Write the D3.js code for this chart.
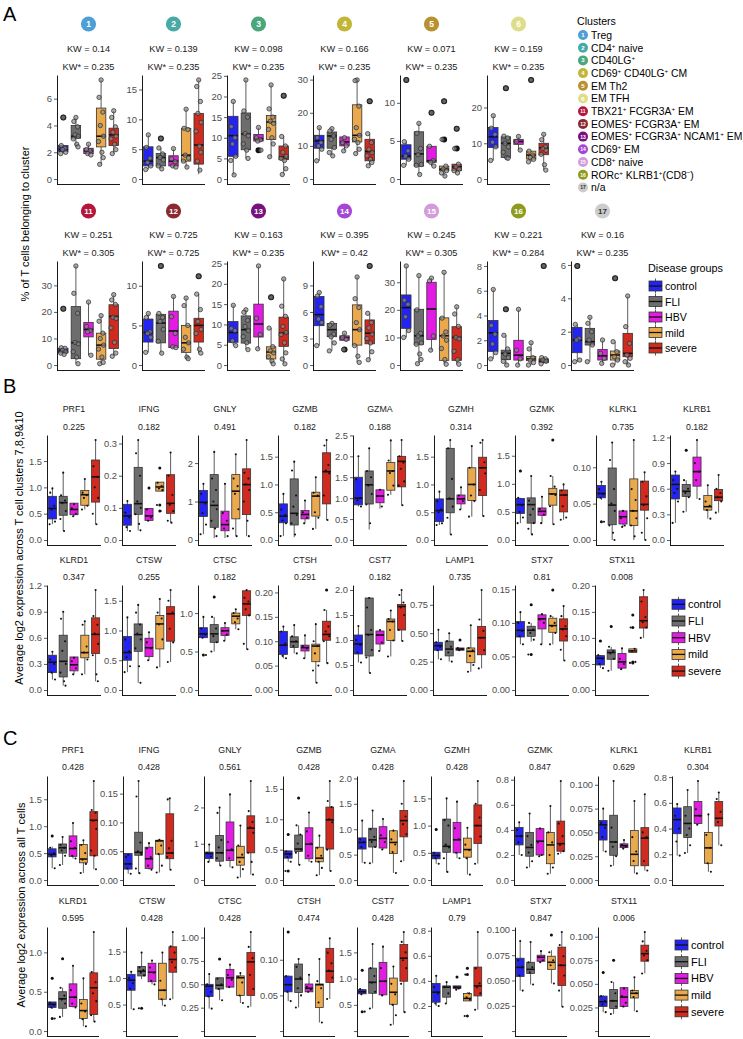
<!DOCTYPE html>
<html><head><meta charset="utf-8">
<script src="https://cdn.jsdelivr.net/npm/d3@7"></script>
<style>body{margin:0;background:#fff}</style>
</head><body>
<svg id="c" width="743" height="1039"></svg>
<script>
// ---------------- DATA ----------------
const groups = ["control","FLI","HBV","mild","severe"];
const groupColors = ["#2424f2","#6d6d6d","#e21ce2","#eaa94c","#d12a1e"];

const clusterIds = ["1","2","3","4","5","6","11","12","13","14","15","16","17"];
const clusterNames = ["Treg","CD4^+ naive","CD40LG^+","CD69^+ CD40LG^+ CM","EM Th2","EM TFH",
  "TBX21^+ FCGR3A^+ EM","EOMES^+ FCGR3A^+ EM","EOMES^+ FCGR3A^+ NCAM1^+ EM","CD69^+ EM","CD8^+ naive",
  "RORc^+ KLRB1^+(CD8^-)","n/a"];
const clusterColors = ["#4e9fd6","#48a9a6","#4aa77c","#c2b637","#b99131","#dedd8a",
  "#b3183c","#8a2a30","#78107d","#a547d6","#d39bdb","#8f9a1f","#cccccc"];

// Panel A: % of T cells per cluster
const aKW =    ["0.14","0.139","0.098","0.166","0.071","0.159","0.251","0.725","0.163","0.395","0.245","0.221","0.16"];
const aKWadj = ["0.235","0.235","0.235","0.235","0.235","0.235","0.305","0.725","0.235","0.42","0.305","0.284","0.235"];
const aTicks = [["0","2","4","6"],["0","5","10","15"],["0","5","10","15","20","25"],["0","10","20","30"],
  ["0","5","10"],["0","10","20"],["0","10","20","30"],["0","5","10"],["0","5","10","15","20","25"],
  ["0","3","6","9"],["0","10","20","30"],["0","2","4","6","8"],["0","2","4","6"]];
// [lo, q1, median, q3, hi] per group
const aBoxes = [
 [[1.9,2.05,2.2,2.5,2.5],[2.4,3.05,3.2,4.0,4.6],[1.8,1.9,2.1,2.3,2.6],[1.1,2.4,3.2,5.3,7.4],[1.9,2.5,3.3,3.8,5.1]],
 [[1.6,2.2,3.0,5.4,7.4],[1.7,2.2,3.6,4.3,5.2],[2.0,2.2,3.0,3.9,5.1],[2.0,3.0,4.0,8.5,11.7],[0.8,2.5,5.7,11.0,16.6]],
 [[1.0,5.5,10.5,15.2,18.8],[5.0,7.1,10.9,16.0,24.0],[9.2,9.2,9.8,10.8,12.5],[5.4,9.6,13.8,15.4,22.8],[1.1,4.7,5.4,8.0,10.3]],
 [[5.5,9.3,11.5,13.2,15.5],[7.0,9.3,13.0,14.2,15.2],[8.5,10.0,11.2,12.7,12.7],[7.7,11.2,13.2,22.4,29.9],[4.0,5.5,8.3,12.0,13.7]],
 [[1.8,2.6,3.0,4.5,4.9],[0.6,1.7,3.3,6.2,7.3],[1.7,2.2,2.4,4.3,4.3],[0.4,1.1,1.3,1.7,1.7],[0.8,1.1,1.6,1.95,1.95]],
 [[5.2,8.8,11.8,14.4,17.7],[5.8,6.0,10.0,11.8,12.0],[8.1,9.7,10.5,11.1,11.9],[4.8,5.6,6.7,7.8,7.8],[2.5,6.8,8.7,10.0,12.5]],
 [[4.0,4.6,5.3,6.3,6.5],[0.5,2.4,8.4,22.0,37.3],[3.7,10.6,13.4,16.0,23.7],[0.5,2.2,7.5,12.0,18.6],[3.3,6.2,18.3,22.7,26.5]],
 [[1.6,2.9,4.1,5.8,6.5],[1.5,2.8,5.3,6.4,6.5],[2.2,2.2,4.3,6.8,8.65],[0.8,1.6,2.8,5.0,8.45],[1.5,2.9,5.0,5.9,8.95]],
 [[4.8,5.6,8.0,10.7,14.7],[3.8,5.4,8.7,12.1,13.6],[4.0,6.9,10.1,15.0,24.4],[0.3,1.5,3.2,4.5,9.1],[0.3,4.6,7.9,11.8,21.2]],
 [[2.2,4.45,5.7,7.75,8.2],[1.6,3.2,4.0,4.7,4.7],[2.8,2.8,3.1,3.3,3.6],[0.3,2.25,4.0,6.8,9.95],[0.6,2.4,3.6,5.1,5.85]],
 [[10.0,13.3,20.8,25.4,35.9],[0.5,7.5,10.6,20.2,32.4],[5.4,9.3,20.3,30.0,31.5],[0.3,1.7,10.6,17.1,33.6],[0.3,1.7,10.0,13.9,21.1]],
 [[0.5,1.1,2.6,3.6,6.1],[0,0.45,0.95,1.2,2.4],[0,0.4,0.8,2.0,4.5],[0,0.35,0.5,0.7,1.8],[0.1,0.2,0.3,0.5,0.6]],
 [[0.2,0.74,1.5,2.26,2.44],[0.2,1.2,1.4,2.2,2.86],[0.1,0.3,0.55,0.94,1.5],[0,0.3,0.6,0.84,1.4],[0,0.5,0.7,1.9,4.14]]
];
const aSamples = [
 [[4.6,2.5,2.3,2.2,2.0,1.9],[4.6,4.3,3.9,3.3,3.2,3.0,2.6,2.4],[2.6,2.2,2.1,1.9,1.8],[7.4,6.1,5.0,4.0,3.2,2.8,2.0,1.6,1.1],[5.1,4.6,3.9,3.5,3.2,3.0,2.6,2.2,1.9]],
 [[7.4,5.3,3.5,2.8,2.2,1.6],[6.8,5.2,4.2,3.6,3.2,2.2,1.7],[5.1,3.4,2.9,2.2,2.0],[11.7,8.5,8.3,4.0,3.5,3.0,2.0],[16.6,15.5,13.0,11.0,9.5,8.0,5.5,4.5,3.0,1.5]],
 [[18.8,12.7,10.0,8.5,5.5,4.5,1.0],[24.0,16.5,15.0,11.0,10.5,8.5,7.0,5.0],[12.5,10.0,9.5,9.2,7.0],[22.8,17.0,15.0,14.0,13.5,12.0,10.0,8.5,5.4],[20.2,10.3,8.0,6.5,5.5,5.0,4.5,2.5,1.1]],
 [[15.5,12.5,11.0,10.0,9.0,5.5],[15.2,14.5,13.0,12.0,9.5,8.0,7.0],[12.5,11.0,10.0,8.5],[29.9,29.7,22.0,15.5,13.2,12.0,11.0,9.0,7.7],[23.5,13.7,11.0,9.0,8.0,7.0,6.0,5.0,4.0]],
 [[13.0,4.9,3.7,3.0,2.6,1.8],[7.3,6.0,4.0,3.2,1.9,1.8,0.6],[8.7,4.3,2.4,2.2,1.7],[10.2,5.2,1.7,1.3,1.1,0.8,0.4],[6.6,4.0,1.95,1.6,1.3,1.1,0.8]],
 [[17.7,14.2,12.5,10.3,9.0,5.2],[25.4,12.0,11.5,10.0,9.0,7.5,6.0,5.8],[11.9,10.5,8.1],[27.7,7.8,6.7,6.0,5.5,4.8],[12.5,11.0,9.0,8.5,8.0,6.9,4.0,2.5]],
 [[21.2,6.5,6.3,5.5,5.0,4.5,4.0],[37.3,27.0,19.5,8.5,8.0,5.0,3.0,0.5],[23.7,14.5,13.0,12.5,3.7],[18.6,16.5,12.0,10.0,7.5,6.0,3.0,1.0,0.5],[26.5,24.5,22.8,18.0,17.5,14.0,8.5,4.5,3.3]],
 [[6.5,6.0,4.2,4.0,3.5,1.6],[12.5,6.5,6.0,5.5,4.5,3.0,1.5],[8.65,6.1,4.0,2.3,2.2],[8.45,7.5,5.0,3.5,2.8,2.0,1.0,0.8],[11.2,8.95,7.0,5.5,4.5,4.0,2.0,1.5]],
 [[14.7,9.0,8.5,6.0,4.8],[13.6,13.0,11.0,9.5,8.5,7.0,5.5,3.8],[24.4,11.5,7.5,4.0],[16.7,9.1,4.5,3.5,3.0,2.0,1.0,0.3],[21.2,14.5,12.0,9.5,8.0,7.5,5.5,3.0,1.5,0.3]],
 [[8.2,7.8,6.6,5.2,4.8,2.2],[4.7,4.5,3.5,3.2,2.5,1.6],[3.6,3.1,2.9,1.75],[9.95,7.5,6.5,4.8,4.0,2.2,1.0,0.3],[11.2,5.85,4.8,4.2,3.5,3.0,2.5,1.5,0.6]],
 [[35.9,23.5,22.0,17.5,12.5,10.0],[32.4,20.0,11.5,10.5,8.0,7.5,4.0,2.0,0.5],[31.5,30.5,10.5,5.4],[33.6,17.0,12.0,10.5,9.0,6.0,2.0,0.3],[21.1,18.5,14.0,10.0,9.5,5.0,2.0,0.3]],
 [[6.1,3.2,2.5,1.7,1.0,0.5],[4.5,2.4,1.3,0.9,0.6,0.3,0],[4.5,1.2,0.5,0],[1.8,1.3,0.6,0.4,0.2,0],[8.0,0.6,0.5,0.4,0.3,0.1]],
 [[5.94,2.44,1.6,1.5,0.3,0.2],[2.86,2.5,2.0,1.5,1.2,0.2],[1.5,0.7,0.4,0.1],[5.2,1.4,0.8,0.5,0.3,0],[4.14,2.3,1.3,0.6,0.4,0.2,0]]
];

// Panels B and C: genes
const genes = ["PRF1","IFNG","GNLY","GZMB","GZMA","GZMH","GZMK","KLRK1","KLRB1",
               "KLRD1","CTSW","CTSC","CTSH","CST7","LAMP1","STX7","STX11"];
const bP = ["0.225","0.182","0.491","0.182","0.188","0.314","0.392","0.735","0.182",
            "0.347","0.255","0.182","0.291","0.182","0.735","0.81","0.008"];
const bTicks = [["0.0","0.5","1.0","1.5","2.0"],["0.0","0.1","0.2","0.3"],["0","1","2"],["0.0","0.5","1.0","1.5"],
  ["0.0","0.5","1.0","1.5","2.0","2.5"],["0.0","0.5","1.0","1.5"],["0.0","0.5","1.0","1.5"],["0.00","0.05","0.10"],
  ["0.0","0.3","0.6","0.9","1.2"],["0.0","0.3","0.6","0.9","1.2"],["0.0","0.5","1.0","1.5"],["0.0","0.5","1.0"],
  ["0.00","0.05","0.10","0.15","0.20"],["0.0","0.5","1.0","1.5","2.0"],["0.00","0.25","0.50","0.75"],
  ["0.00","0.05","0.10","0.15"],["0.00","0.05","0.10","0.15","0.20"]];
const bBoxes = [
 [[0.3,0.40,0.60,0.83,0.98],[0.17,0.47,0.71,0.83,1.28],[0.45,0.48,0.58,0.70,0.70],[0.58,0.66,0.86,0.94,1.16],[0.3,0.72,1.2,1.52,1.9]],
 [[0.028,0.046,0.075,0.111,0.121],[0.03,0.08,0.113,0.226,0.311],[0.06,0.061,0.075,0.098,0.098],[0.152,0.152,0.165,0.18,0.18],[0.054,0.083,0.114,0.203,0.272]],
 [[0.15,0.61,0.98,1.29,1.46],[0.05,0.33,0.9,1.7,2.29],[0.05,0.24,0.4,0.75,1.46],[0.1,0.55,1.27,1.7,2.23],[0.1,0.66,1.44,1.85,2.6]],
 [[0.07,0.31,0.43,0.65,0.83],[0.05,0.27,0.48,1.1,1.41],[0.3,0.38,0.46,0.53,0.71],[0.2,0.43,0.79,0.86,1.13],[0.36,0.65,1.23,1.57,1.8]],
 [[0.8,0.84,1.0,1.5,2.0],[0.25,0.86,1.32,1.65,2.19],[0.75,0.89,1.05,1.2,1.2],[1.08,1.19,1.65,1.85,2.38],[0.83,1.27,1.88,2.0,2.39]],
 [[0.27,0.33,0.53,0.74,0.87],[0.1,0.49,0.74,1.65,1.8],[0.55,0.65,0.74,0.81,0.95],[0.42,0.71,1.0,1.3,1.69],[0.43,0.8,1.3,1.49,1.8]],
 [[0.3,0.47,0.63,0.74,0.75],[0.1,0.3,0.63,0.75,1.14],[0.3,0.44,0.51,0.57,0.77],[0.28,0.62,0.82,0.92,1.14],[0.36,0.5,0.8,0.89,0.99]],
 [[0.055,0.058,0.064,0.075,0.08],[0.0,0.021,0.048,0.099,0.134],[0.018,0.022,0.032,0.04,0.04],[0.0,0.02,0.04,0.084,0.1375],[0.0,0.041,0.049,0.081,0.093]],
 [[0.2,0.48,0.65,0.76,0.8],[0.33,0.51,0.57,0.65,0.7],[0.48,0.63,0.8,0.97,1.17],[0.25,0.35,0.39,0.52,0.64],[0.32,0.46,0.5,0.59,0.76]],
 [[0.12,0.2,0.32,0.4,0.44],[0.05,0.15,0.33,0.63,0.9],[0.18,0.22,0.29,0.38,0.38],[0.18,0.37,0.43,0.63,0.79],[0.1,0.42,0.64,0.83,1.15]],
 [[0.3,0.5,0.63,0.9,1.22],[0.12,0.65,0.93,1.11,1.43],[0.5,0.56,0.71,0.87,0.97],[0.38,0.69,1.11,1.25,1.53],[0.47,0.82,1.28,1.4,1.68]],
 [[0.68,0.68,0.73,0.81,0.95],[0.5,0.62,0.73,0.85,0.95],[0.64,0.71,0.77,0.81,0.87],[0.79,0.86,0.96,1.0,1.05],[0.53,0.97,1.12,1.29,1.3]],
 [[0.065,0.073,0.092,0.12,0.13],[0.075,0.087,0.099,0.109,0.133],[0.065,0.08,0.087,0.092,0.112],[0.015,0.058,0.09,0.094,0.135],[0.055,0.102,0.114,0.141,0.164]],
 [[0.55,0.72,0.92,1.1,1.28],[0.34,0.68,1.11,1.84,1.84],[0.78,0.92,1.1,1.18,1.2],[0.67,0.99,1.37,1.42,1.59],[0.98,1.2,1.67,1.71,2.0]],
 [[0.27,0.35,0.39,0.42,0.53],[0.25,0.3,0.36,0.43,0.5],[0.35,0.35,0.36,0.37,0.37],[0.16,0.24,0.34,0.37,0.57],[0.19,0.31,0.46,0.56,0.88]],
 [[0.068,0.079,0.089,0.102,0.116],[0.072,0.08,0.089,0.095,0.1],[0.068,0.091,0.106,0.112,0.113],[0.068,0.086,0.096,0.107,0.11],[0.044,0.073,0.091,0.106,0.125]],
 [[0.042,0.048,0.061,0.066,0.067],[0.037,0.059,0.072,0.077,0.083],[0.04,0.042,0.054,0.07,0.08],[0.072,0.072,0.075,0.079,0.079],[0.1,0.119,0.133,0.179,0.192]]
];
const bSamples = [
 [[0.98,0.9,0.65,0.58,0.35,0.3],[1.28,0.85,0.75,0.7,0.55,0.4,0.17],[0.68,0.6,0.5,0.45],[1.16,0.9,0.85,0.8,0.65,0.58],[1.9,1.4,1.2,1.0,0.8,0.5,0.3]],
 [[0.121,0.085,0.07,0.04,0.028],[0.311,0.27,0.2,0.12,0.1,0.08,0.05,0.03],[0.162,0.095,0.07,0.06],[0.224,0.178,0.168,0.16,0.155,0.109,0.09],[0.272,0.2,0.14,0.11,0.09,0.06,0.054]],
 [[1.46,1.2,0.95,0.7,0.4,0.15],[2.29,1.6,1.3,1.0,0.8,0.5,0.3,0.1],[1.46,0.7,0.5,0.3,0.1],[2.23,1.6,1.4,1.2,0.8,0.3,0.1],[2.6,1.75,1.6,1.45,1.3,1.0,0.5,0.1]],
 [[0.83,0.55,0.45,0.35,0.3,0.07],[1.41,1.25,0.8,0.6,0.45,0.3,0.1],[0.71,0.5,0.4,0.3],[1.13,0.85,0.8,0.5,0.4,0.2],[1.8,1.7,1.35,1.25,1.2,0.8,0.36]],
 [[2.0,1.45,1.0,0.95,0.8],[2.19,1.65,1.5,1.3,1.1,0.85,0.4],[1.2,1.05,0.8],[2.38,1.9,1.65,1.6,1.3,1.08],[2.39,2.0,1.85,1.7,1.4,1.3,0.83]],
 [[0.87,0.7,0.55,0.5,0.3,0.27],[1.8,1.65,1.1,0.75,0.6,0.4,0.1],[0.95,0.8,0.7,0.55],[1.69,1.3,1.0,0.8,0.7,0.42],[1.8,1.75,1.4,1.3,1.2,0.9,0.43]],
 [[1.23,0.75,0.62,0.5,0.4,0.3],[1.14,0.7,0.55,0.45,0.3,0.2,0.1],[0.77,0.55,0.45,0.3],[1.78,1.14,0.95,0.82,0.8,0.6,0.28],[0.99,0.88,0.8,0.6,0.4,0.36]],
 [[0.08,0.07,0.063,0.058,0.025],[0.134,0.11,0.07,0.05,0.04,0.02,0.01,0.0],[0.04,0.03,0.02,0.018],[0.1375,0.07,0.055,0.04,0.03,0.02,0.005],[0.093,0.08,0.06,0.048,0.03,0.01,0.0]],
 [[0.8,0.7,0.6,0.55,0.45,0.2],[1.05,0.7,0.6,0.55,0.5,0.33],[1.17,0.9,0.8,0.7,0.48],[0.64,0.45,0.4,0.35,0.25],[0.76,0.6,0.55,0.5,0.45,0.32]],
 [[0.44,0.35,0.3,0.2,0.12],[0.9,0.82,0.56,0.45,0.3,0.2,0.1,0.05],[0.37,0.33,0.25,0.18],[0.79,0.75,0.5,0.43,0.35,0.18],[1.15,0.85,0.75,0.65,0.53,0.4,0.18,0.1]],
 [[1.22,0.85,0.65,0.55,0.4,0.3],[1.43,1.3,1.1,0.95,0.85,0.7,0.4,0.12],[0.97,0.8,0.7,0.5],[1.53,1.3,1.2,1.1,0.85,0.38],[1.68,1.5,1.3,1.03,0.8,0.47]],
 [[0.95,0.8,0.72,0.68,0.455],[1.21,0.95,0.8,0.7,0.62,0.5],[0.87,0.77,0.72,0.64],[1.05,1.0,0.93,0.88,0.79],[1.3,1.2,1.15,1.05,0.97,0.6,0.53]],
 [[0.13,0.12,0.095,0.07,0.065],[0.133,0.11,0.1,0.09,0.075],[0.112,0.09,0.085,0.065],[0.135,0.1,0.09,0.075,0.05,0.04,0.015],[0.205,0.164,0.13,0.12,0.11,0.1,0.055]],
 [[1.28,1.0,0.9,0.75,0.55],[1.84,1.65,1.2,1.1,0.8,0.65,0.34],[1.2,1.1,0.95,0.78],[1.59,1.42,1.37,1.2,0.99,0.67],[2.0,1.9,1.75,1.65,1.5,1.2,0.98]],
 [[0.53,0.42,0.38,0.35,0.27],[0.5,0.43,0.38,0.33,0.25],[0.44,0.37,0.36,0.35],[0.57,0.37,0.35,0.3,0.22,0.16],[0.88,0.62,0.52,0.46,0.35,0.19]],
 [[0.116,0.1,0.088,0.08,0.068],[0.127,0.1,0.09,0.085,0.075,0.053],[0.113,0.105,0.1,0.068],[0.149,0.11,0.1,0.095,0.085,0.068],[0.125,0.11,0.095,0.09,0.08,0.06,0.044]],
 [[0.094,0.067,0.06,0.05,0.042],[0.122,0.083,0.075,0.07,0.06,0.037],[0.08,0.06,0.05,0.04],[0.144,0.12,0.079,0.075,0.054,0.052],[0.192,0.17,0.14,0.13,0.12,0.1]]
];

const cP = ["0.428","0.428","0.561","0.428","0.428","0.428","0.847","0.629","0.304",
            "0.595","0.428","0.428","0.474","0.428","0.79","0.847","0.006"];
const cTicks = [["0.0","0.5","1.0","1.5"],["0.00","0.05","0.10","0.15"],["0","1","2"],["0.0","0.5","1.0","1.5"],
  ["0.0","0.5","1.0","1.5","2.0"],["0.0","0.5","1.0","1.5"],["0.0","0.2","0.4","0.6","0.8"],
  ["0.000","0.025","0.050","0.075","0.100"],["0.0","0.2","0.4","0.6","0.8"],
  ["0.0","0.5","1.0"],["~0.0","0.5","1.0","1.5"],["~0.00","0.25","0.50","0.75","1.00"],["~0.00","0.05","0.10"],
  ["~0.0","0.5","1.0","1.5"],["~0.0","0.2","0.4","0.6","0.8"],["~0.000","0.025","0.050","0.075","0.100"],
  ["~0.000","0.025","0.050","0.075","0.100"]];
const cBoxes = [
 [[0.22,0.43,0.48,0.58,0.62],[0.28,0.5,0.6,0.67,0.8],[0.4,0.44,0.585,0.82,1.06],[0.13,0.32,0.39,0.66,0.74],[0.2,0.45,1.11,1.27,1.84]],
 [[0.011,0.019,0.028,0.046,0.046],[0.012,0.043,0.048,0.083,0.172],[0.018,0.02,0.037,0.057,0.064],[0.013,0.045,0.068,0.069,0.07],[0.018,0.037,0.047,0.115,0.142]],
 [[0.5,0.59,0.73,0.77,0.98],[0.4,0.52,0.75,1.23,2.0],[0.35,0.54,0.82,1.6,2.36],[0.07,0.41,0.62,0.93,1.5],[0.15,0.75,1.43,1.77,2.73]],
 [[0.3,0.36,0.43,0.48,0.48],[0.25,0.47,0.51,0.74,0.9],[0.3,0.35,0.59,0.86,1.11],[0.08,0.3,0.36,0.54,0.73],[0.15,0.51,0.99,1.2,1.63]],
 [[0.34,0.61,0.74,0.83,1.17],[0.33,0.65,0.79,1.02,1.37],[0.6,0.63,0.82,1.05,1.2],[0.14,0.52,0.74,0.97,1.0],[0.37,0.85,1.17,1.37,1.95]],
 [[0.3,0.39,0.45,0.51,0.51],[0.15,0.51,0.62,1.12,1.5],[0.4,0.5,0.74,1.06,1.44],[0.1,0.42,0.56,0.77,0.96],[0.3,0.67,1.0,1.38,1.82]],
 [[0.2,0.28,0.35,0.42,0.46],[0.1,0.19,0.26,0.38,0.53],[0.19,0.2,0.31,0.41,0.42],[0.05,0.13,0.28,0.38,0.59],[0.21,0.23,0.29,0.47,0.79]],
 [[0.03,0.042,0.058,0.0625,0.075],[0.015,0.026,0.04,0.068,0.104],[0.033,0.034,0.036,0.038,0.042],[0.007,0.015,0.027,0.052,0.083],[0.01,0.015,0.044,0.055,0.09]],
 [[0.19,0.36,0.47,0.56,0.59],[0.21,0.33,0.44,0.57,0.7],[0.43,0.44,0.5,0.61,0.77],[0.064,0.13,0.25,0.37,0.51],[0.27,0.42,0.48,0.61,0.68]],
 [[0.28,0.3,0.34,0.37,0.37],[0.18,0.29,0.41,0.5,0.55],[0.3,0.31,0.43,0.6,0.83],[0.06,0.16,0.26,0.4,0.67],[0.12,0.21,0.55,0.74,1.26]],
 [[0.41,0.77,0.96,1.07,1.12],[0.98,1.04,1.13,1.22,1.48],[0.88,0.93,1.11,1.28,1.33],[0.48,0.6,0.77,1.28,1.48],[0.6,1.11,1.35,1.59,1.87]],
 [[0.24,0.37,0.48,0.5,0.61],[0.33,0.45,0.49,0.57,0.57],[0.47,0.47,0.57,0.66,0.71],[0.3,0.38,0.57,0.59,0.62],[0.26,0.38,0.74,0.84,1.06]],
 [[0.042,0.055,0.065,0.077,0.078],[0.033,0.054,0.073,0.094,0.101],[0.055,0.055,0.06,0.066,0.079],[0.012,0.033,0.065,0.066,0.101],[0.045,0.068,0.084,0.116,0.13]],
 [[0.7,0.71,0.75,0.79,0.8],[0.43,0.72,0.93,1.2,1.66],[0.68,0.69,0.95,1.31,1.61],[0.12,0.51,0.74,1.01,1.23],[0.36,0.95,1.39,1.65,1.89]],
 [[0.2,0.23,0.31,0.38,0.44],[0.22,0.27,0.35,0.36,0.39],[0.33,0.34,0.35,0.36,0.36],[0.24,0.24,0.26,0.3,0.31],[0.17,0.28,0.36,0.51,0.79]],
 [[0.04,0.054,0.063,0.072,0.089],[0.046,0.057,0.061,0.068,0.088],[0.068,0.069,0.073,0.075,0.079],[0.047,0.061,0.068,0.074,0.08],[0.024,0.045,0.065,0.083,0.098]],
 [[0.02,0.026,0.031,0.037,0.038],[0.018,0.024,0.032,0.044,0.052],[0.025,0.026,0.036,0.046,0.046],[0.021,0.035,0.04,0.043,0.057],[0.061,0.074,0.082,0.091,0.105]]
];
const cSamples = [
 [[0.82,0.6,0.5,0.45,0.22],[0.8,0.65,0.6,0.55,0.45,0.28],[1.06,0.72,0.6,0.45,0.4],[0.74,0.65,0.5,0.38,0.3,0.13],[1.84,1.3,1.25,1.1,0.95,0.55,0.45,0.2]],
 [[0.044,0.04,0.028,0.02,0.011],[0.172,0.145,0.065,0.05,0.045,0.02,0.012],[0.064,0.055,0.04,0.025,0.018],[0.07,0.068,0.06,0.045,0.025,0.013],[0.142,0.14,0.068,0.055,0.047,0.04,0.018]],
 [[0.98,0.75,0.65,0.5],[2.0,1.85,1.1,0.9,0.75,0.6,0.4],[2.36,1.05,0.85,0.6,0.35],[1.5,0.95,0.7,0.5,0.3,0.07],[2.73,1.9,1.6,1.45,1.3,0.75,0.5,0.15]],
 [[0.75,0.47,0.42,0.38,0.3,0.15],[1.35,0.9,0.75,0.6,0.5,0.45,0.25],[1.11,0.8,0.6,0.4,0.3],[0.73,0.53,0.4,0.3,0.2,0.08],[1.63,1.3,1.2,1.0,0.95,0.5,0.15]],
 [[1.17,0.8,0.75,0.65,0.34],[1.37,1.0,0.85,0.75,0.65,0.33],[1.2,0.88,0.75,0.6],[0.97,0.8,0.7,0.55,0.14],[1.95,1.5,1.25,1.1,0.9,0.37]],
 [[0.93,0.5,0.45,0.4,0.3],[1.5,1.1,1.0,0.65,0.6,0.4,0.15],[1.44,0.95,0.75,0.5,0.4],[0.96,0.65,0.55,0.4,0.1],[1.82,1.4,1.15,1.0,0.8,0.3]],
 [[0.46,0.4,0.35,0.3,0.2],[0.53,0.35,0.28,0.22,0.15,0.1],[0.41,0.3,0.2,0.19],[0.59,0.38,0.3,0.2,0.1,0.05],[0.79,0.45,0.35,0.28,0.23,0.21]],
 [[0.075,0.06,0.055,0.045,0.03],[0.104,0.055,0.04,0.035,0.025,0.015],[0.042,0.037,0.035,0.033],[0.083,0.045,0.03,0.02,0.007],[0.09,0.05,0.045,0.02,0.01]],
 [[0.59,0.5,0.4,0.3,0.19],[0.7,0.5,0.4,0.35,0.27,0.21],[0.77,0.55,0.5,0.43],[0.51,0.35,0.25,0.13,0.064],[0.68,0.63,0.53,0.45,0.27]],
 [[0.67,0.36,0.33,0.3,0.16],[0.92,0.55,0.45,0.4,0.35,0.18],[0.83,0.52,0.43,0.35,0.3],[0.67,0.35,0.25,0.15,0.06],[1.26,0.75,0.62,0.48,0.38,0.2,0.12]],
 [[1.12,1.0,0.9,0.8,0.41],[1.48,1.2,1.15,1.1,1.05,0.43],[1.33,1.2,1.1,0.95,0.88],[1.48,0.95,0.77,0.6,0.48],[1.87,1.6,1.48,1.3,1.2,0.6]],
 [[0.61,0.5,0.42,0.37,0.24],[0.77,0.56,0.5,0.45,0.33],[0.71,0.6,0.55,0.47],[0.62,0.58,0.52,0.38,0.3],[1.06,0.9,0.78,0.6,0.45,0.26]],
 [[0.139,0.077,0.065,0.055,0.042],[0.101,0.09,0.075,0.06,0.05,0.033],[0.079,0.062,0.058,0.055],[0.101,0.07,0.06,0.04,0.012],[0.13,0.11,0.095,0.085,0.075,0.045]],
 [[1.16,0.8,0.75,0.7,0.37],[1.66,1.2,1.05,0.92,0.75,0.43],[1.61,1.2,0.95,0.68],[1.23,0.9,0.7,0.5,0.3,0.12],[1.89,1.7,1.5,1.35,1.2,0.9,0.36]],
 [[0.44,0.35,0.3,0.22,0.2],[0.39,0.35,0.3,0.22],[0.43,0.35,0.34,0.33],[0.5,0.45,0.3,0.27,0.25,0.12],[0.79,0.5,0.38,0.35,0.3,0.17]],
 [[0.089,0.07,0.063,0.055,0.04],[0.088,0.068,0.063,0.058,0.046],[0.079,0.073,0.07,0.068],[0.095,0.078,0.07,0.065,0.047],[0.098,0.085,0.074,0.065,0.055,0.04,0.024]],
 [[0.062,0.037,0.032,0.028,0.02],[0.075,0.052,0.04,0.032,0.026,0.018],[0.045,0.037,0.03,0.026],[0.057,0.043,0.04,0.036,0.021],[0.105,0.095,0.085,0.08,0.075,0.061]]
];

// ---------------- DRAWING ----------------
const FONT = "'Liberation Sans', Arial, Helvetica, sans-serif";
const svg = d3.select("#c").attr("font-family", FONT);
const JIT = [0.0,-0.2,0.17,-0.08,0.24,-0.26,0.08,0.21,-0.14,0.12];

function rich(t, str, fs) {
  const parts = str.split(/(\^[+-])/).filter(p => p !== "");
  let shifted = false;
  parts.forEach(p => {
    if (p[0] === "^") {
      t.append("tspan").attr("dy", -fs*0.38).attr("font-size", fs*0.6).text(p[1] === "-" ? "\u2212" : "+");
      shifted = true;
    } else {
      const ts = t.append("tspan").text(p);
      if (shifted) { ts.attr("dy", fs*0.38); shifted = false; }
    }
  });
}

function panel(x0, top, bottom, width, boxes, samples, tickStrs, st) {
  const g = svg.append("g");
  const M = d3.max([...boxes.flat(), ...samples.flat()]);
  const y = d3.scaleLinear().domain([-0.05*M, 1.05*M]).range([bottom, top]);
  const x = d3.scaleBand().domain(groups).range([x0, x0 + width]);
  const bw = x.bandwidth(), boxW = bw*0.75;
  const ticks = tickStrs.map(s => ({v: +s.replace("~",""), lab: s[0] === "~" ? "" : s}))
                        .filter(t => t.v <= 1.05*M + 1e-12);
  const ax = g.append("g").attr("transform", `translate(${x0},0)`)
    .call(d3.axisLeft(y).tickValues(ticks.map(t => t.v)).tickFormat((d,i) => ticks[i].lab)
      .tickSize(3).tickSizeOuter(0).tickPadding(2));
  ax.attr("font-family", FONT).attr("font-size", st.tick);
  ax.select(".domain").attr("stroke", "#000").attr("stroke-width", 0.9);
  ax.selectAll(".tick line").attr("stroke", "#333").attr("stroke-width", 0.8);
  ax.selectAll(".tick text").attr("fill", "#4d4d4d");
  g.append("line").attr("x1", x0).attr("x2", x0 + width).attr("y1", bottom + 0.5).attr("y2", bottom + 0.5)
    .attr("stroke", "#000").attr("stroke-width", 0.9);
  groups.forEach((grp, i) => {
    const [lo, q1, md, q3, hi] = boxes[i];
    const cx = x(grp) + bw/2;
    g.append("line").attr("x1", cx).attr("x2", cx).attr("y1", y(hi)).attr("y2", y(lo))
      .attr("stroke", "#333").attr("stroke-width", 0.8);
    g.append("rect").attr("x", cx - boxW/2).attr("y", y(q3)).attr("width", boxW)
      .attr("height", Math.max(y(q1) - y(q3), 0.8)).attr("fill", groupColors[i])
      .attr("stroke", "#333").attr("stroke-width", 0.8);
    g.append("line").attr("x1", cx - boxW/2).attr("x2", cx + boxW/2).attr("y1", y(md)).attr("y2", y(md))
      .attr("stroke", "#111").attr("stroke-width", st.med);
    samples[i].filter(v => v > hi + 1e-9 || v < lo - 1e-9).forEach(v => {
      g.append("circle").attr("cx", cx).attr("cy", y(v)).attr("r", st.outR).attr("fill", "#111");
    });
    samples[i].forEach((v, k) => {
      const c = g.append("circle").attr("cx", cx + JIT[k % JIT.length]*bw*st.jit).attr("cy", y(v)).attr("r", st.ptR);
      if (st.open) c.attr("fill", "#8a8a8a").attr("fill-opacity", 0.7).attr("stroke", "#2a2a2a").attr("stroke-width", 0.7);
      else c.attr("fill", "#111");
    });
  });
}

function text(x, y, str, fs, anchor, fill) {
  return svg.append("text").attr("x", x).attr("y", y).attr("font-size", fs)
    .attr("text-anchor", anchor || "start").attr("fill", fill || "#1a1a1a").text(str);
}

// ---- Section letters
text(3, 21, "A", 20, "start", "#000");
text(3, 393, "B", 20, "start", "#000");
text(3, 745, "C", 20, "start", "#000");

// ---- Panel A
const aStyle = {tick: 9.5, med: 1.6, outR: 3, ptR: 2.2, open: true, jit: 0.8};
const aRow1 = [57,142,227,313,400,487], aRow2 = [57,142,227,313,400,487,571];
const aW = 63;
clusterIds.forEach((id, i) => {
  const row2 = i >= 6;
  const x0 = row2 ? aRow2[i - 6] : aRow1[i];
  const top = row2 ? 261 : 75, bottom = row2 ? 370 : 184;
  const cx = x0 + aW/2;
  const by = row2 ? 211 : 24;
  svg.append("circle").attr("cx", cx).attr("cy", by).attr("r", 7.6).attr("fill", clusterColors[i]);
  svg.append("text").attr("x", cx).attr("y", by + 3).attr("font-size", id.length > 1 ? 8 : 8.5)
    .attr("font-weight", "bold").attr("text-anchor", "middle")
    .attr("fill", id === "17" ? "#333" : "#fff").text(id);
  text(cx, row2 ? 237.5 : 51.5, "KW = " + aKW[i], 9.2, "middle");
  text(cx, row2 ? 256 : 70, "KW* = " + aKWadj[i], 9.2, "middle");
  panel(x0, top, bottom, aW, aBoxes[i], aSamples[i], aTicks[i], aStyle);
});
svg.append("text").attr("transform", "translate(29,224) rotate(-90)").attr("text-anchor", "middle")
  .attr("font-size", 11).attr("fill", "#000").text("% of T cells belonging to cluster");

// Clusters legend
text(577, 24.5, "Clusters", 10.6, "start", "#000");
clusterIds.forEach((id, i) => {
  const yy = 35 + i*12.7;
  svg.append("circle").attr("cx", 583).attr("cy", yy).attr("r", 5).attr("fill", clusterColors[i]);
  svg.append("text").attr("x", 583).attr("y", yy + 2).attr("font-size", id.length > 1 ? 5 : 6)
    .attr("font-weight", "bold").attr("text-anchor", "middle").attr("fill", id === "17" ? "#333" : "#fff").text(id);
  const t = svg.append("text").attr("x", 591).attr("y", yy + 3.8).attr("font-size", 10.4).attr("fill", "#000");
  rich(t, clusterNames[i], 10.4);
});

function groupLegend(x, y0, step, fs, title) {
  if (title) text(x - 1, y0 - 14, title, 10.8, "start", "#000");
  groups.forEach((grp, i) => {
    const yy = y0 + i*step;
    const w = 13, h = 10;
    svg.append("line").attr("x1", x + w/2).attr("x2", x + w/2).attr("y1", yy - h/2 - 2.5).attr("y2", yy + h/2 + 2.5)
      .attr("stroke", "#333").attr("stroke-width", 0.8);
    svg.append("rect").attr("x", x).attr("y", yy - h/2).attr("width", w).attr("height", h)
      .attr("fill", groupColors[i]).attr("stroke", "#333").attr("stroke-width", 0.8);
    svg.append("line").attr("x1", x).attr("x2", x + w).attr("y1", yy).attr("y2", yy)
      .attr("stroke", "#111").attr("stroke-width", 1.3);
    text(x + w + 3, yy + 4, grp, fs, "start", "#000");
  });
}
groupLegend(649, 286, 15.5, 10.6, "Disease groups");

// ---- Panels B and C
const bcStyle = {tick: 9.3, med: 1.6, outR: 1.5, ptR: 1.05, open: false, jit: 1};
function geneBlock(cfg, pvals, ticks, boxes, samples) {
  genes.forEach((gname, i) => {
    const row2 = i >= 9;
    const x0 = row2 ? cfg.row2[i - 9] : cfg.row1[i];
    const r = row2 ? cfg.r2 : cfg.r1;
    const cx = x0 + cfg.w/2;
    text(cx, r.title, gname, 8.8, "middle");
    text(cx, r.p, pvals[i], 8.8, "middle");
    panel(x0, r.top, r.bottom, cfg.w, boxes[i], samples[i], ticks[i], bcStyle);
  });
}
geneBlock({row1: [47,122,198,278,353,434,515,596,670], row2: [47,122,198,278,353,433,515,595], w: 54,
  r1: {title: 412, p: 429.5, top: 435, bottom: 545}, r2: {title: 563, p: 580, top: 585, bottom: 695}},
  bP, bTicks, bBoxes, bSamples);
geneBlock({row1: [47,123,204,283,357,431,514,598,672], row2: [47,126,204,283,357,431,515,598], w: 52,
  r1: {title: 753, p: 770, top: 776, bottom: 885}, r2: {title: 904, p: 921, top: 927, bottom: 1036}},
  cP, cTicks, cBoxes, cSamples);

svg.append("text").attr("transform", "translate(23,548) rotate(-90)").attr("text-anchor", "middle")
  .attr("font-size", 11).attr("fill", "#000").text("Average log2 expression across T cell clusters 7,8,9&10");
svg.append("text").attr("transform", "translate(25,905) rotate(-90)").attr("text-anchor", "middle")
  .attr("font-size", 11).attr("fill", "#000").text("Average log2 expression across all T cells");

groupLegend(672, 604.3, 16.7, 11, null);
groupLegend(675, 945, 16.7, 11, null);
</script>
</body></html>
